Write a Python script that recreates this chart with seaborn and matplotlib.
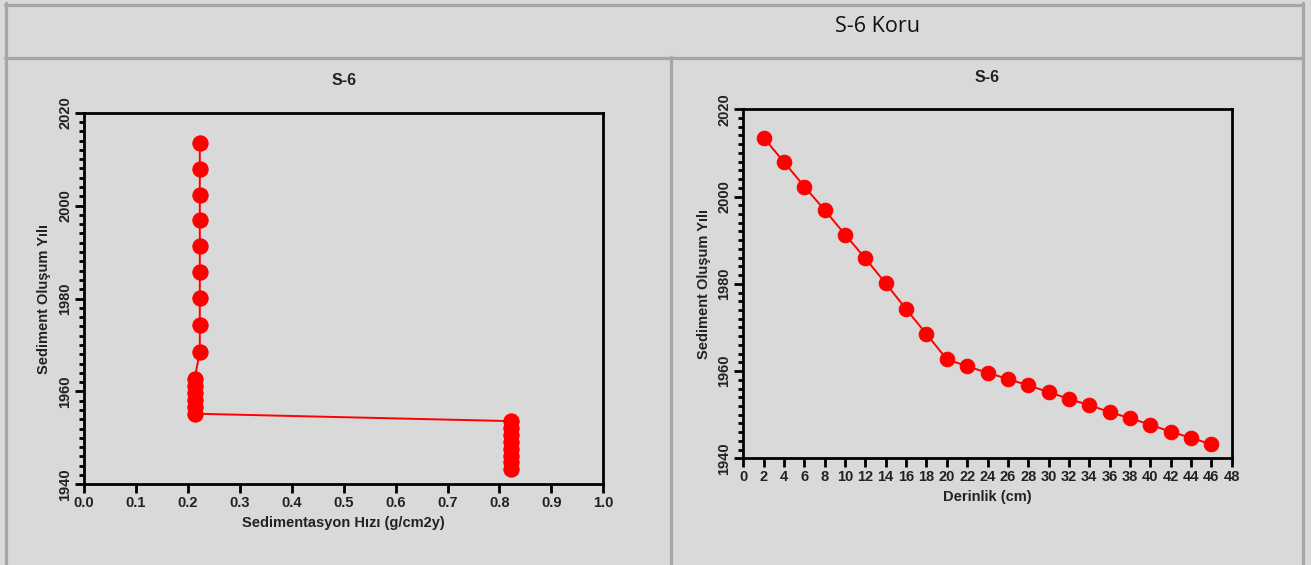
import numpy as np
import pandas as pd
import seaborn as sns
import matplotlib.pyplot as plt
from matplotlib.lines import Line2D
from matplotlib.ticker import MultipleLocator

# S-6 core: depth (cm), sediment year, sedimentation rate (g/cm2y)
depth = [2, 4, 6, 8, 10, 12, 14, 16, 18, 20, 22, 24,
         26, 28, 30, 32, 34, 36, 38, 40, 42, 44, 46]
year = [2013.5, 2007.9, 2002.3, 1996.9, 1991.3, 1985.8, 1980.1, 1974.2, 1968.5,
        1962.7, 1961.1, 1959.6, 1958.2, 1956.7, 1955.2, 1953.6, 1952.2, 1950.6,
        1949.2, 1947.7, 1946.1, 1944.7, 1943.2]
rate = [0.223] * 9 + [0.213] * 6 + [0.823] * 8

df = pd.DataFrame({'Derinlik': depth, 'Yil': year, 'Hiz': rate})

sns.set_theme(style='ticks')
plt.rcParams['font.family'] = ['Liberation Sans', 'DejaVu Sans']

bg = '#d9d9d9'
border = '#a6a6a6'
W, H = 1311, 565

fig = plt.figure(figsize=(W / 100, H / 100), dpi=100, facecolor=bg)


def px(x0, y0, x1, y1):
    return [x0 / W, 1 - y1 / H, (x1 - x0) / W, (y1 - y0) / H]


# table borders
def hline(y, x0, x1):
    fig.add_artist(Line2D([x0 / W, x1 / W], [1 - y / H, 1 - y / H],
                          color=border, lw=2.3, transform=fig.transFigure))


def vline(x, y0, y1):
    fig.add_artist(Line2D([x / W, x / W], [1 - y0 / H, 1 - y1 / H],
                          color=border, lw=2.3, transform=fig.transFigure))


hline(4.5, 5, 1303)
hline(57.5, 5, 1303)
vline(6.5, 3, 565)
vline(670.5, 57, 565)
vline(1302.5, 3, 565)

fig.text(878 / W, 1 - 26 / H, 'S-6 Koru', ha='center', va='center',
         fontsize=15.5, family=['Open Sans', 'DejaVu Sans'], color='#111111')

ax1 = fig.add_axes(px(84, 112.7, 603.3, 484.3))
ax2 = fig.add_axes(px(743.3, 109.3, 1231.7, 458.3))

line_kw = dict(color='#ff0000', marker='o', markeredgecolor='#ff0000',
               linewidth=1.4, estimator=None)

sns.lineplot(data=df, x='Hiz', y='Yil', sort=False, markersize=11, ax=ax1, **line_kw)
sns.lineplot(data=df, x='Derinlik', y='Yil', sort=False, markersize=10.5, ax=ax2, **line_kw)

ax1.set_xlim(0, 1.0)
ax1.xaxis.set_major_locator(MultipleLocator(0.1))
ax1.xaxis.set_major_formatter(plt.FuncFormatter(lambda v, p: f'{v:.1f}'))
ax2.set_xlim(0, 48)
ax2.xaxis.set_major_locator(MultipleLocator(2))

for ax, xl in [(ax1, 'Sedimentasyon Hızı (g/cm2y)'), (ax2, 'Derinlik (cm)')]:
    ax.set_facecolor(bg)
    ax.set_ylim(1940, 2020)
    ax.yaxis.set_major_locator(MultipleLocator(20))
    ax.yaxis.set_minor_locator(MultipleLocator(2))
    for s in ax.spines.values():
        s.set_linewidth(2.0)
        s.set_color('black')
    ax.tick_params(axis='both', which='major', direction='out', length=6.5,
                   width=2.0, color='black', labelsize=10.5, pad=2)
    ax.tick_params(axis='y', which='minor', direction='out', length=3.5,
                   width=2.0, color='black')
    for lab in ax.get_xticklabels() + ax.get_yticklabels():
        lab.set_fontweight('bold')
        lab.set_color('#222222')
    for lab in ax.get_yticklabels():
        lab.set_rotation(90)
        lab.set_va('center')
    ax.set_xlabel(xl, fontsize=10.5, fontweight='bold', color='#222222', labelpad=4)
    ax.set_ylabel('Sediment Oluşum Yılı', fontsize=10.5, fontweight='bold',
                  color='#222222', labelpad=5)
    ax.set_title('S-6', fontsize=11.5, fontweight='bold', color='#222222', pad=20)

fig.savefig('out.png', dpi=100, facecolor=bg)
